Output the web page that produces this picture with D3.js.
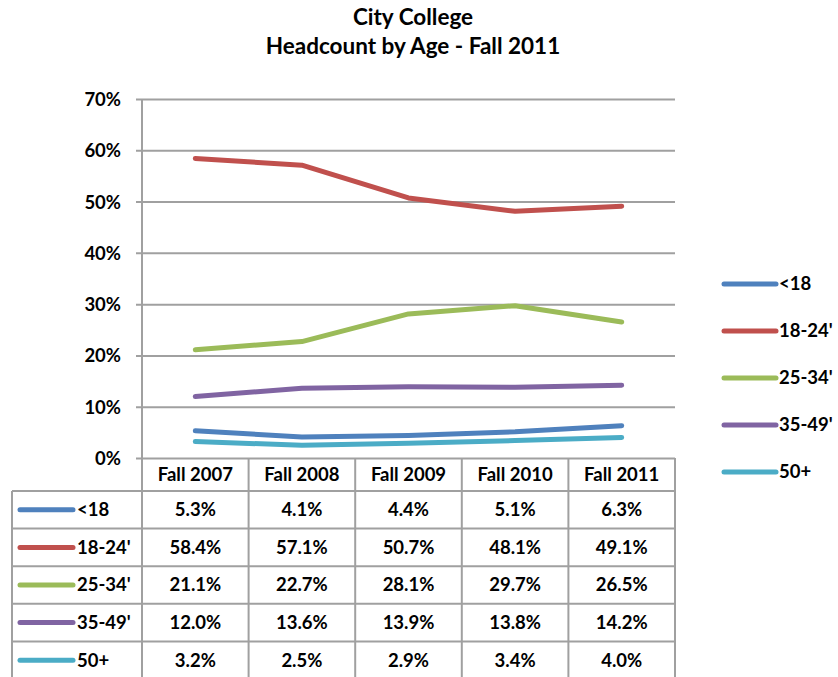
<!DOCTYPE html>
<html><head><meta charset="utf-8">
<script src="https://cdn.jsdelivr.net/npm/d3@7"></script>
<style>body{margin:0;background:#fff}svg{display:block}text{font-family:Lato,"Open Sans",sans-serif;font-weight:bold;fill:#000}</style>
</head><body><svg id="c" width="838" height="677"></svg>
<script>
const categories = ["Fall 2007","Fall 2008","Fall 2009","Fall 2010","Fall 2011"];
const seriesNames = ["<18","18-24'","25-34'","35-49'","50+"];
const colors = ["#4F81BD","#C0504D","#9BBB59","#8064A2","#4BACC6"];
const vUnder18 = [5.3,4.1,4.4,5.1,6.3];
const v18to24 = [58.4,57.1,50.7,48.1,49.1];
const v25to34 = [21.1,22.7,28.1,29.7,26.5];
const v35to49 = [12.0,13.6,13.9,13.8,14.2];
const v50plus = [3.2,2.5,2.9,3.4,4.0];
const yTicks = [0,10,20,30,40,50,60,70];
const titleLines = ["City College","Headcount by Age - Fall 2011"];

const series = [vUnder18,v18to24,v25to34,v35to49,v50plus].map((v,i)=>({name:seriesNames[i],color:colors[i],values:v}));

const svg = d3.select("#c");
const grid = "#a0a0a0";
const fs = 18.5;
const x = d3.scaleBand().domain(categories).range([142,675]);
const y = d3.scaleLinear().domain([0,70]).range([458,99]);
const row = d3.scaleBand().domain(seriesNames).range([491,679]);

// title
svg.selectAll("text.title").data(titleLines).enter().append("text")
  .attr("x",413).attr("y",(d,i)=>25+i*29).attr("text-anchor","middle")
  .attr("font-size",22.5).text(d=>d);

// y axis with gridlines
const ax = d3.axisLeft(y).tickValues(yTicks).tickFormat(d=>d+"%")
  .tickSizeInner(-(675-136)).tickSizeOuter(0).tickPadding(15);
const g = svg.append("g").attr("transform","translate(136,0)").call(ax);
g.select(".domain").remove();
g.selectAll(".tick line").attr("stroke",grid).attr("stroke-width",2);
g.selectAll(".tick text").attr("font-size",fs).attr("font-family","Lato").attr("font-weight","bold").attr("fill","#000").attr("dy","0.35em");

// table lines
const tl = svg.append("g").attr("stroke",grid).attr("stroke-width",2);
tl.append("line").attr("x1",142).attr("x2",142).attr("y1",99).attr("y2",679);
categories.forEach(c=>{
  tl.append("line").attr("x1",x(c)+x.bandwidth()).attr("x2",x(c)+x.bandwidth()).attr("y1",458).attr("y2",679);
});
tl.append("line").attr("x1",12).attr("x2",12).attr("y1",491).attr("y2",679);
seriesNames.forEach(s=>{
  tl.append("line").attr("x1",12).attr("x2",675).attr("y1",row(s)).attr("y2",row(s));
});

// header
svg.selectAll("text.hdr").data(categories).enter().append("text")
  .attr("x",d=>x(d)+x.bandwidth()/2).attr("y",475).attr("dy","0.35em")
  .attr("text-anchor","middle").attr("font-size",fs).text(d=>d);

// rows
series.forEach(s=>{
  const cy = row(s.name)+row.bandwidth()/2;
  svg.append("line").attr("x1",20).attr("x2",73).attr("y1",cy).attr("y2",cy)
    .attr("stroke",s.color).attr("stroke-width",5).attr("stroke-linecap","round");
  svg.append("text").attr("x",77).attr("y",cy).attr("dy","0.35em").attr("font-size",fs).text(s.name);
  s.values.forEach((v,i)=>{
    svg.append("text").attr("x",x(categories[i])+x.bandwidth()/2).attr("y",cy).attr("dy","0.35em")
      .attr("text-anchor","middle").attr("font-size",fs).text(v.toFixed(1)+"%");
  });
});

// lines
const line = d3.line().x((d,i)=>x(categories[i])+x.bandwidth()/2).y(d=>y(d));
series.forEach(s=>{
  svg.append("path").attr("d",line(s.values)).attr("fill","none")
    .attr("stroke",s.color).attr("stroke-width",5).attr("stroke-linecap","round").attr("stroke-linejoin","round");
});

// legend
const ly = d3.scaleLinear().domain([0,4]).range([284,472]);
series.forEach((s,i)=>{
  svg.append("line").attr("x1",724).attr("x2",776).attr("y1",ly(i)).attr("y2",ly(i))
    .attr("stroke",s.color).attr("stroke-width",5).attr("stroke-linecap","round");
  svg.append("text").attr("x",779).attr("y",ly(i)).attr("dy","0.35em").attr("font-size",fs).text(s.name);
});
</script></body></html>
